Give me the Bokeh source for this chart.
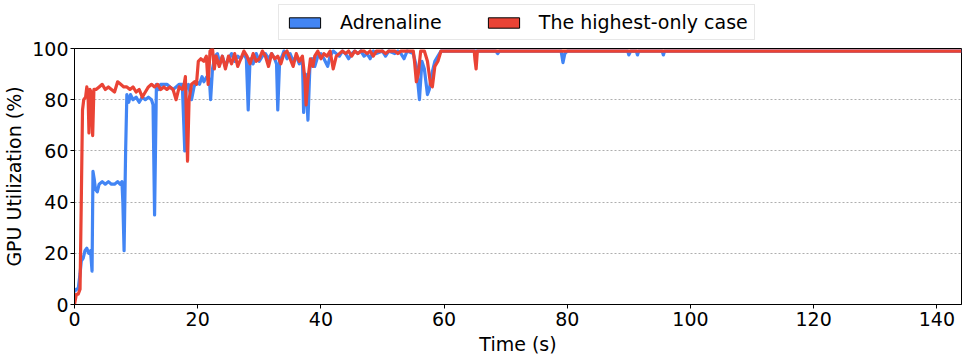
from bokeh.plotting import figure
from bokeh.layouts import column
from bokeh.models import Range1d, Legend, LegendItem, ColumnDataSource
from bokeh.embed import file_html
from bokeh.resources import INLINE

# ---- data ----
series_names = ["Adrenaline", "The highest-only case"]
series_colors = ["#4285F4", "#EA4335"]

adren_t = [0, 0.3, 0.6, 0.9, 1.1, 1.4, 1.7, 2.0, 2.3, 2.6, 2.85, 3.0, 3.2, 3.4, 3.7, 4.0, 4.5, 5.0,
           5.5, 6.0, 6.5, 7.0, 7.4, 7.7, 7.85, 8.05, 8.3, 8.5, 8.8, 9.1, 9.5, 10.0, 10.5, 11.0,
           11.5, 12.0, 12.5, 12.75, 13.0, 13.3, 13.7, 14.0, 14.5, 15.0, 15.5, 16.0, 16.5, 17.0,
           17.5, 17.75, 17.9, 18.1, 18.5, 19.0, 19.4, 19.8, 20.3, 20.7, 21.0, 21.5, 21.9, 22.1,
           22.4, 22.8, 23.2, 23.6, 24.0, 24.5, 25.0, 25.5, 26.0, 26.5, 27.0, 27.5, 27.9, 28.2,
           28.5, 29.0, 29.5, 30.0, 30.5, 31.0, 31.5, 32.0, 32.5, 32.8, 33.0, 33.3, 33.7, 34.0,
           34.5, 35.0, 35.5, 36.0, 36.5, 37.0, 37.2, 37.5, 37.9, 38.2, 38.6, 39.0, 39.5, 40.0,
           40.5, 41.1, 41.5, 42.0, 42.5, 43.0, 43.5, 44.0, 44.5, 45.0, 45.5, 46.0, 46.5, 47.0,
           47.5, 48.0, 48.5, 49.0, 50.0, 50.5, 51.0, 52.0, 52.5, 53.0, 53.5, 54.0, 55.0, 55.5,
           56.0, 56.4, 56.8, 57.3, 57.6, 58.0, 58.5, 59.0, 59.5, 60.0, 68.4, 68.7, 69.0, 79.0,
           79.3, 79.6, 80.0, 89.8, 90.0, 90.3, 91.2, 91.4, 91.6, 95.4, 95.6, 95.8, 144.0]
adren_v = [5, 6, 6, 12, 17, 18, 21, 22, 20, 21, 13, 52, 49, 45, 44, 47, 48, 47,
           48, 47, 47, 48, 47, 48, 40, 21, 60, 82, 79, 82, 80, 81, 79, 81,
           80, 81, 80, 78, 35, 86, 84, 86, 86, 86, 85, 84, 85, 86,
           86, 70, 60, 84, 86, 80, 85, 87, 86, 89, 87, 89, 88, 80,
           92, 97, 98, 94, 97, 93, 96, 98, 95, 97, 96, 98, 96, 76,
           96, 94, 98, 95, 97, 98, 96, 98, 96, 94, 76, 95, 97, 99,
           96, 98, 95, 97, 94, 96, 75, 90, 72, 92, 96, 93, 97, 98,
           96, 93, 97, 99, 98, 97, 99, 98, 96, 98, 99, 98, 99, 97,
           98, 96, 99, 98, 99, 97, 99, 98, 99, 98, 96, 99, 98, 93,
           80, 95, 92, 82, 84, 90, 95, 97, 99, 99, 99, 98, 99, 99,
           94.5, 98, 99, 99, 97.5, 99, 99, 97.5, 99, 99, 97.5, 99, 99]

high_t = [0, 0.3, 0.6, 0.9, 1.1, 1.3, 1.5, 1.8, 2.0, 2.2, 2.35, 2.5, 2.7, 2.95, 3.15, 3.5, 4.0, 4.5,
          5.0, 5.5, 6.0, 6.5, 7.0, 7.5, 8.0, 8.5, 9.0, 9.5, 10.0, 10.5, 11.0, 11.5, 12.0, 12.5,
          13.0, 13.5, 14.0, 14.5, 15.0, 15.5, 16.0, 16.5, 17.0, 17.5, 17.8, 18.0, 18.2, 18.35,
          18.6, 19.0, 19.5, 19.8, 20.1, 20.5, 21.0, 21.4, 21.7, 22.0, 22.4, 22.7, 23.0, 23.5,
          24.0, 24.5, 25.0, 25.5, 26.0, 26.5, 27.0, 27.5, 28.0, 28.5, 29.0, 29.5, 30.0, 30.5,
          31.0, 31.5, 32.0, 32.5, 33.0, 33.5, 34.0, 34.5, 35.0, 35.5, 36.0, 36.5, 37.0, 37.4,
          37.6, 37.9, 38.3, 38.7, 39.0, 39.5, 40.0, 40.5, 41.0, 41.5, 42.0, 42.5, 43.0, 43.5,
          44.0, 44.5, 45.0, 45.5, 46.0, 46.5, 47.0, 47.5, 48.0, 48.5, 49.0, 50.0, 50.5, 51.0,
          52.0, 52.5, 53.0, 54.0, 55.0, 55.2, 55.5, 55.8, 56.2, 56.8, 57.3, 57.8, 58.1, 58.5,
          59.0, 59.5, 64.9, 65.0, 65.2, 65.4, 144.0]
high_v = [0, 4, 4, 6, 40, 76, 80, 81, 85, 82, 67, 84, 83, 66, 84, 84, 85, 86,
          84, 85, 84, 83, 87, 86, 85, 85, 84, 85, 83, 84, 81, 83, 85, 86,
          85, 86, 84, 85, 84, 85, 84, 80, 85, 84, 86, 89, 70, 56,
          80, 86, 87, 86, 95, 96, 95, 97, 86, 99, 100, 92, 97, 93,
          97, 92, 97, 94, 98, 93, 96, 99, 97, 94, 98, 95, 96, 99,
          97, 93, 98, 96, 97, 94, 98, 99, 96, 93, 98, 95, 97, 88,
          78, 88, 96, 93, 97, 99, 96, 98, 97, 99, 92, 97, 98, 99,
          98, 99, 97, 99, 98, 99, 99, 98, 99, 97, 99, 99, 98, 99,
          99, 98, 99, 99, 99, 95, 87, 90, 99, 99, 95, 86, 85, 93,
          95, 99, 99, 96, 92, 99, 99]

x_ticks = [0, 20, 40, 60, 80, 100, 120, 140]
y_ticks = [0, 20, 40, 60, 80, 100]
x_label = "Time (s)"
y_label = "GPU Utilization (%)"

FONT = "DejaVu Sans"
FS = "19px"
NAN = float("nan")

# ---------------- legend strip (separate small figure above the plot) ----------------
lf = figure(width=969, height=40, output_backend="svg", toolbar_location=None,
            x_range=Range1d(0, 1), y_range=Range1d(0, 1), min_border=0)
lf.axis.visible = False
lf.grid.visible = False
lf.outline_line_color = None

patch_src = ColumnDataSource(data=dict(l=[NAN], r=[NAN], b=[NAN], t=[NAN]))
q1 = lf.quad(left="l", right="r", bottom="b", top="t", source=patch_src,
             fill_color=series_colors[0], line_color="black", line_width=1)
q2 = lf.quad(left="l", right="r", bottom="b", top="t", source=patch_src,
             fill_color=series_colors[1], line_color="black", line_width=1)

legend = Legend(items=[LegendItem(label=series_names[0], renderers=[q1]),
                       LegendItem(label=series_names[1], renderers=[q2])],
                orientation="horizontal", location=(204, 0),
                label_text_font=FONT, label_text_font_size=FS, label_text_color="black",
                glyph_width=39, glyph_height=13, label_standoff=16, spacing=42,
                padding=6, margin=0,
                border_line_color="#d0d0d0", border_line_width=1,
                background_fill_alpha=1)
lf.add_layout(legend, "center")

# ---------------- main plot ----------------
p = figure(width=969, height=320, output_backend="svg", toolbar_location=None,
           x_range=Range1d(0, 144), y_range=Range1d(0, 100),
           min_border_left=73, min_border_top=8, min_border_right=8, min_border_bottom=56)

p.outline_line_color = "black"
p.outline_line_alpha = 1
p.outline_line_width = 1

p.xgrid.visible = False
p.ygrid.ticker = y_ticks
p.ygrid.grid_line_color = "#999999"
p.ygrid.grid_line_dash = "2 2"
p.ygrid.grid_line_width = 0.8

for ax in (p.xaxis[0], p.yaxis[0]):
    ax.axis_line_color = "black"
    ax.major_tick_line_color = "black"
    ax.major_tick_out = 4
    ax.major_tick_in = 0
    ax.minor_tick_line_color = None
    ax.major_label_text_font = FONT
    ax.major_label_text_font_size = FS
    ax.major_label_text_color = "black"
    ax.axis_label_text_font = FONT
    ax.axis_label_text_font_size = FS
    ax.axis_label_text_font_style = "normal"
    ax.axis_label_text_color = "black"

p.xaxis.ticker = x_ticks
p.yaxis.ticker = y_ticks
p.xaxis.axis_label = x_label
p.yaxis.axis_label = y_label
p.xaxis.major_label_standoff = 3
p.yaxis.major_label_standoff = 2
p.xaxis.axis_label_standoff = 4
p.yaxis.axis_label_standoff = 4

p.line(adren_t, adren_v, line_color=series_colors[0], line_width=3.2, line_join="round")
p.line(high_t, high_v, line_color=series_colors[1], line_width=3.2, line_join="round")

layout = column(lf, p, spacing=0)
open("out.html", "w").write(file_html(layout, INLINE))
